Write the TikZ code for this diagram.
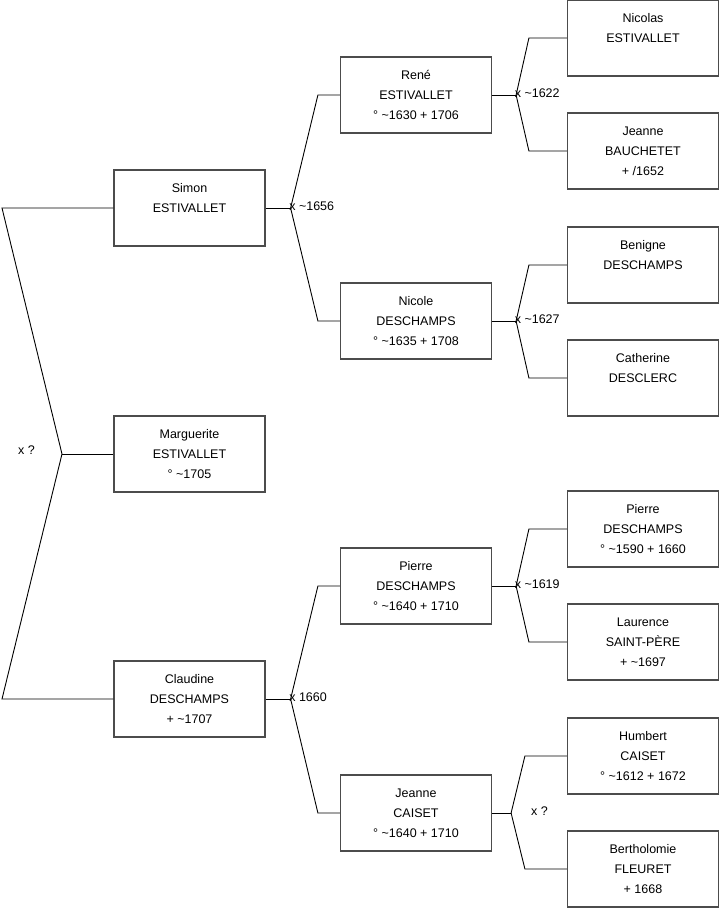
\documentclass[tikz,border=0pt]{standalone}
\usepackage{fontspec}
\setmainfont{Liberation Sans}
\usetikzlibrary{positioning, calc}
\tikzset{
  person/.style={
    rectangle, draw=black!70, line width=1.2pt, fill=white,
    minimum width=151pt, minimum height=76pt, inner sep=0pt,
    align=center, font=\fontsize{12.5}{20}\selectfont},
  link/.style={line width=0.9pt, color=black},
  union/.style={anchor=west, inner sep=0pt,
                font=\fontsize{12.5}{15}\selectfont}
}

\begin{document}
\begin{tikzpicture}[x=1pt, y=-1pt]
  \useasboundingbox (0,0) rectangle (719,908);

  %% Generation 1
  \node[person] (simon) at (189.5,208) {Simon\\ESTIVALLET\\\mbox{}};
  \node[person] (marg)  at (189.5,454) {Marguerite\\ESTIVALLET\\° \textasciitilde1705};
  \node[person] (claud) at (189.5,699) {Claudine\\DESCHAMPS\\+ \textasciitilde1707};

  %% Generation 2
  \node[person] (rene)    at (416,95)  {René\\ESTIVALLET\\° \textasciitilde1630 + 1706};
  \node[person] (nicole)  at (416,321) {Nicole\\DESCHAMPS\\° \textasciitilde1635 + 1708};
  \node[person] (pierre)  at (416,586) {Pierre\\DESCHAMPS\\° \textasciitilde1640 + 1710};
  \node[person] (jeannec) at (416,813) {Jeanne\\CAISET\\° \textasciitilde1640 + 1710};

  %% Generation 3
  \node[person] (nicolas)   at (643,38)  {Nicolas\\ESTIVALLET\\\mbox{}};
  \node[person] (jeanneb)   at (643,151) {Jeanne\\BAUCHETET\\+ /1652};
  \node[person] (benigne)   at (643,265) {Benigne\\DESCHAMPS\\\mbox{}};
  \node[person] (catherine) at (643,378) {Catherine\\DESCLERC\\\mbox{}};
  \node[person] (pierred)   at (643,529) {Pierre\\DESCHAMPS\\° \textasciitilde1590 + 1660};
  \node[person] (laurence)  at (643,642) {Laurence\\SAINT-PÈRE\\+ \textasciitilde1697};
  \node[person] (humbert)   at (643,756) {Humbert\\CAISET\\° \textasciitilde1612 + 1672};
  \node[person] (berth)     at (643,869) {Bertholomie\\FLEURET\\+ 1668};

  %% Junctions
  \coordinate (edge) at (2,0);
  \coordinate (root) at (62,454);
  \coordinate (u1) at ([xshift=25pt]simon.east);
  \coordinate (u2) at ([xshift=25pt]claud.east);
  \coordinate (u3) at ([xshift=24pt]rene.east);
  \coordinate (u4) at ([xshift=24pt]nicole.east);
  \coordinate (u5) at ([xshift=24pt]pierre.east);
  \coordinate (u6) at ([xshift=19pt]jeannec.east);

  %% Root
  \draw[link] (marg.west) -- (root);
  \draw[link] (root) -- (simon.west -| edge) -- (simon.west);
  \draw[link] (root) -- (claud.west -| edge) -- (claud.west);
  \node[union] at (18,450) {x ?};

  %% Generation 1 -> 2
  \draw[link] (simon.east) -- (u1);
  \draw[link] (u1) -- ([xshift=-22pt]rene.west) -- (rene.west);
  \draw[link] (u1) -- ([xshift=-22pt]nicole.west) -- (nicole.west);
  \node[union] at ([xshift=-1.5pt, yshift=2pt]u1) {x \textasciitilde1656};

  \draw[link] (claud.east) -- (u2);
  \draw[link] (u2) -- ([xshift=-22pt]pierre.west) -- (pierre.west);
  \draw[link] (u2) -- ([xshift=-22pt]jeannec.west) -- (jeannec.west);
  \node[union] at ([xshift=-1.5pt, yshift=2pt]u2) {x 1660};

  %% Generation 2 -> 3
  \draw[link] (rene.east) -- (u3);
  \draw[link] (u3) -- ([xshift=-38pt]nicolas.west) -- (nicolas.west);
  \draw[link] (u3) -- ([xshift=-38pt]jeanneb.west) -- (jeanneb.west);
  \node[union] at ([xshift=-1.5pt, yshift=2pt]u3) {x \textasciitilde1622};

  \draw[link] (nicole.east) -- (u4);
  \draw[link] (u4) -- ([xshift=-38pt]benigne.west) -- (benigne.west);
  \draw[link] (u4) -- ([xshift=-38pt]catherine.west) -- (catherine.west);
  \node[union] at ([xshift=-1.5pt, yshift=2pt]u4) {x \textasciitilde1627};

  \draw[link] (pierre.east) -- (u5);
  \draw[link] (u5) -- ([xshift=-38pt]pierred.west) -- (pierred.west);
  \draw[link] (u5) -- ([xshift=-38pt]laurence.west) -- (laurence.west);
  \node[union] at ([xshift=-1.5pt, yshift=2pt]u5) {x \textasciitilde1619};

  \draw[link] (jeannec.east) -- (u6);
  \draw[link] (u6) -- ([xshift=-42pt]humbert.west) -- (humbert.west);
  \draw[link] (u6) -- ([xshift=-42pt]berth.west) -- (berth.west);
  \node[union] at (531,811) {x ?};

\end{tikzpicture}
\end{document}
